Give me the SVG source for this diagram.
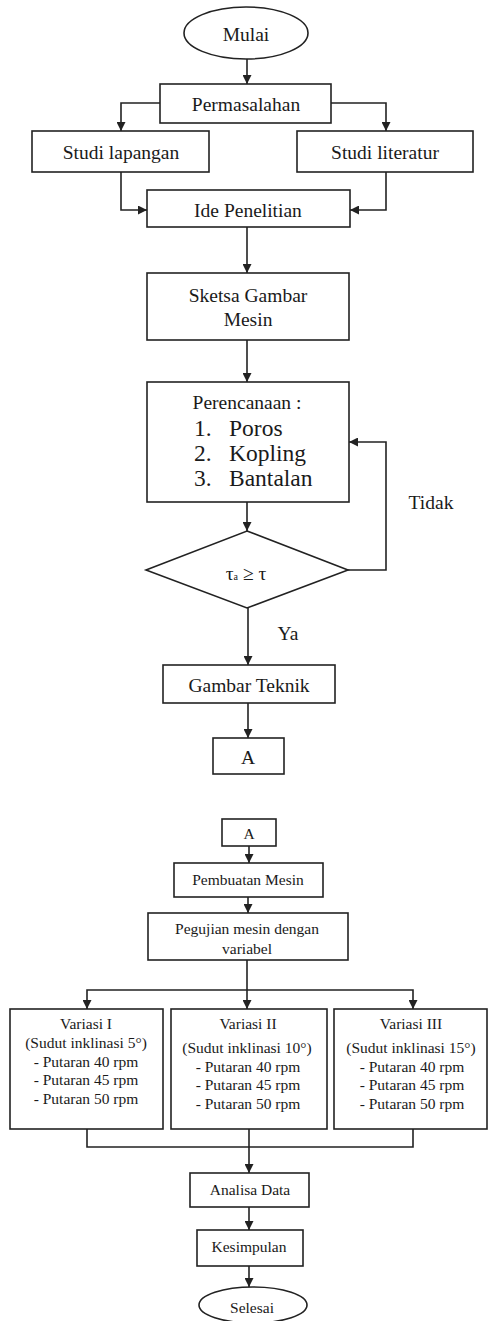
<svg xmlns="http://www.w3.org/2000/svg" width="488" height="1321" viewBox="0 0 488 1321">
<style>
.b{fill:#fff;stroke:#222;stroke-width:1.6}
.c{fill:none;stroke:#222;stroke-width:1.6}
text{font-family:"Liberation Serif","Times New Roman",serif;fill:#1a1a1a;text-anchor:middle;dominant-baseline:central}
.t19{font-size:19.5px}
.t23{font-size:23.5px;text-anchor:start}
.t16{font-size:15.5px}
</style>
<defs>
<marker id="ah" markerUnits="userSpaceOnUse" markerWidth="9" markerHeight="9" viewBox="0 0 10 10" refX="10" refY="5" orient="auto">
<path d="M0,0 L10,5 L0,10 z" fill="#222"/>
</marker>
</defs>
<rect width="488" height="1321" fill="#fff"/>
<g id="connectors" class="c" marker-end="url(#ah)">
<path class="c" d="M247,59 V84" marker-end="url(#ah)"/>
<path class="c" d="M160,103 H121 V131" marker-end="url(#ah)"/>
<path class="c" d="M331,103 H386 V131" marker-end="url(#ah)"/>
<path class="c" d="M121,172 V210 H147" marker-end="url(#ah)"/>
<path class="c" d="M386,172 V210 H350" marker-end="url(#ah)"/>
<path class="c" d="M247,227 V273" marker-end="url(#ah)"/>
<path class="c" d="M247,340 V382" marker-end="url(#ah)"/>
<path class="c" d="M247,502 V531" marker-end="url(#ah)"/>
<path class="c" d="M348,570 H386 V442 H349" marker-end="url(#ah)"/>
<path class="c" d="M248,608 V665" marker-end="url(#ah)"/>
<path class="c" d="M248,703 V738" marker-end="url(#ah)"/>
<path class="c" d="M249,846 V863" marker-end="url(#ah)"/>
<path class="c" d="M248,897 V913" marker-end="url(#ah)"/>
<path class="c" d="M247,960 V1009" marker-end="url(#ah)"/>
<path class="c" d="M247,990 H87 V1009" marker-end="url(#ah)"/>
<path class="c" d="M247,990 H413 V1009" marker-end="url(#ah)"/>
<path class="c" d="M87,1129 V1147 H413 V1129" marker-end="none"/>
<path class="c" d="M249,1129 V1173" marker-end="url(#ah)"/>
<path class="c" d="M249,1207 V1230" marker-end="url(#ah)"/>
<path class="c" d="M249,1266 V1287" marker-end="url(#ah)"/>
</g>
<g id="mulai"><ellipse class="b" cx="246" cy="33" rx="62" ry="26"/><text class="t19" x="246" y="34">Mulai</text></g>
<g id="permasalahan"><rect class="b" x="160" y="84" width="171" height="39"/><text class="t19" x="246" y="104">Permasalahan</text></g>
<g id="studi-lapangan"><rect class="b" x="32" y="131" width="177" height="41"/><text class="t19" x="121" y="152">Studi lapangan</text></g>
<g id="studi-literatur"><rect class="b" x="297" y="131" width="176" height="41"/><text class="t19" x="385" y="152">Studi literatur</text></g>
<g id="ide"><rect class="b" x="147" y="190" width="203" height="37"/><text class="t19" x="248" y="210">Ide Penelitian</text></g>
<g id="sketsa"><rect class="b" x="147" y="273" width="202" height="67"/><text class="t19" x="248" y="295">Sketsa Gambar</text><text class="t19" x="248" y="319">Mesin</text></g>
<g id="perencanaan"><rect class="b" x="147" y="382" width="202" height="120"/>
<text class="t19" x="247" y="402">Perencanaan  :</text>
<text class="t23" x="194" y="428">1.</text><text class="t23" x="229" y="428">Poros</text>
<text class="t23" x="194" y="453">2.</text><text class="t23" x="229" y="453">Kopling</text>
<text class="t23" x="194" y="478">3.</text><text class="t23" x="229" y="478">Bantalan</text></g>
<g id="decision"><polygon class="b" points="247,531 348,570 247,608 146,570"/><text class="t19" x="246" y="573">τ<tspan font-size="10" dy="3">a</tspan><tspan dy="-3"> ≥ τ</tspan></text></g>
<g id="label-tidak"><text class="t19" x="431" y="502">Tidak</text></g>
<g id="label-ya"><text class="t19" x="288" y="633">Ya</text></g>
<g id="gambar-teknik"><rect class="b" x="163" y="665" width="172" height="38"/><text class="t19" x="249" y="685">Gambar  Teknik</text></g>
<g id="a1"><rect class="b" x="213" y="738" width="71" height="36"/><text class="t19" x="248" y="757">A</text></g>
<g id="a2"><rect class="b" x="222" y="819" width="54" height="27"/><text class="t16" x="249" y="833">A</text></g>
<g id="pembuatan"><rect class="b" x="174" y="863" width="149" height="34"/><text class="t16" x="248" y="879">Pembuatan  Mesin</text></g>
<g id="pegujian"><rect class="b" x="148" y="913" width="200" height="47"/><text class="t16" x="247" y="928">Pegujian  mesin  dengan</text><text class="t16" x="247" y="948">variabel</text></g>
<g id="variasi1"><rect class="b" x="10" y="1009" width="153" height="120"/>
<text class="t16" x="86" y="1023">Variasi I</text>
<text class="t16" x="86" y="1042">(Sudut inklinasi  5°)</text>
<text class="t16" x="86" y="1061">- Putaran 40 rpm</text>
<text class="t16" x="86" y="1079">- Putaran 45 rpm</text>
<text class="t16" x="86" y="1098">- Putaran 50 rpm</text></g>
<g id="variasi2"><rect class="b" x="171" y="1009" width="156" height="120"/>
<text class="t16" x="248" y="1023">Variasi II</text>
<text class="t16" x="247" y="1047">(Sudut inklinasi  10°)</text>
<text class="t16" x="248" y="1066">- Putaran 40 rpm</text>
<text class="t16" x="248" y="1084">- Putaran 45 rpm</text>
<text class="t16" x="248" y="1103">- Putaran 50 rpm</text></g>
<g id="variasi3"><rect class="b" x="334" y="1009" width="153" height="120"/>
<text class="t16" x="411" y="1023">Variasi III</text>
<text class="t16" x="411" y="1047">(Sudut inklinasi  15°)</text>
<text class="t16" x="412" y="1066">- Putaran 40 rpm</text>
<text class="t16" x="412" y="1084">- Putaran 45 rpm</text>
<text class="t16" x="412" y="1103">- Putaran 50 rpm</text></g>
<g id="analisa"><rect class="b" x="190" y="1173" width="119" height="34"/><text class="t16" x="250" y="1189">Analisa Data</text></g>
<g id="kesimpulan"><rect class="b" x="197" y="1230" width="106" height="36"/><text class="t16" x="249" y="1246">Kesimpulan</text></g>
<g id="selesai"><ellipse class="b" cx="253" cy="1305" rx="54" ry="18"/><text class="t16" x="252" y="1307">Selesai</text></g>
</svg>
